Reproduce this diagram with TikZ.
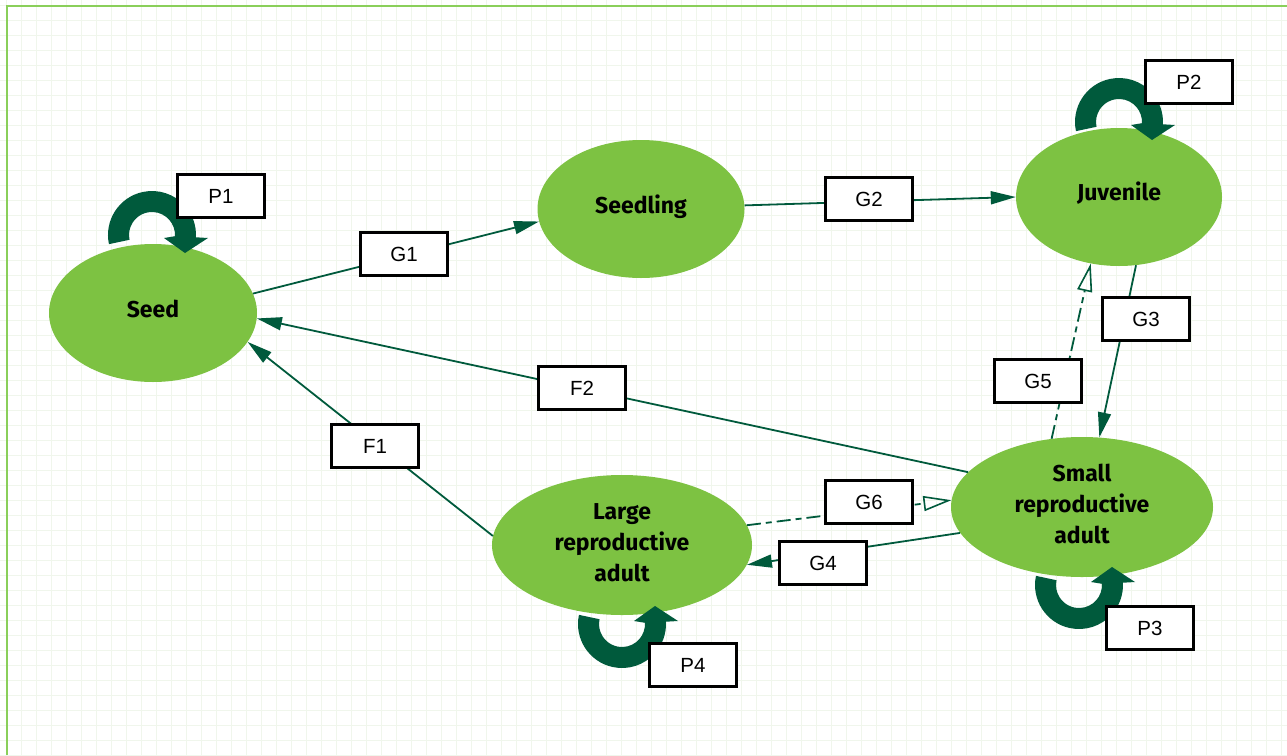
\documentclass[tikz,border=0pt]{standalone}
\usepackage{fontspec}
\setmainfont{Liberation Sans}
\newfontfamily\fira{Fira Sans}
\usetikzlibrary{arrows.meta,shapes.geometric}
\definecolor{dkg}{HTML}{005A3C}
\definecolor{lg}{HTML}{7DC242}
\definecolor{gridc}{HTML}{F0F6EC}
\definecolor{framec}{HTML}{8ACF5A}
\newcommand\toploop[1]{\fill[dkg, shift={#1}] (192:44pt) arc[start angle=192,end angle=-3,radius=44pt] -- (56,3) -- (33,18) -- (12,3) -- (-3:23pt) arc[start angle=-3,end angle=192,radius=23pt] -- cycle;}
\newcommand\botloop[1]{\fill[dkg, shift={#1}] (168:44pt) arc[start angle=168,end angle=363,radius=44pt] -- (56,-3) -- (33,-18) -- (12,-3) -- (3:23pt) arc[start angle=363,end angle=168,radius=23pt] -- cycle;}
\begin{document}
\begin{tikzpicture}[x=1pt,y=-1pt,
 state/.style={ellipse, fill=lg, draw=none, inner sep=0pt},
 stext/.style={font=\fira\bfseries\fontsize{23}{31}\selectfont, align=center, text=black},
 lab/.style={draw=black, fill=white, line width=2.4pt, minimum width=87pt, minimum height=43pt, inner sep=0pt, font=\fontsize{20.5}{24}\selectfont},
 conn/.style={draw=dkg, line width=1.8pt, -{Triangle[length=25pt,width=13pt]}},
 oconn/.style={draw=dkg, line width=1.8pt, dash pattern=on 14pt off 5pt on 6pt off 5pt, -{Triangle[open,length=28pt,width=15pt,line width=1.6pt]}}]
\useasboundingbox (0,0) rectangle (1287,755);
\fill[white] (0,0) rectangle (1287,755);
\foreach \i in {0,...,85} \draw[gridc, line width=1pt] ({6.7+15*\i},0) -- ++(0,755);
\foreach \j in {0,...,50} \draw[gridc, line width=1pt] (0,{5+15*\j}) -- ++(1287,0);
\draw[framec, line width=2pt] (7,755) -- (7,6) -- (1287,6);

\node[state, minimum width=208pt, minimum height=138pt] (seed) at (153,313) {};
\node[state, minimum width=207pt, minimum height=138pt] (seedling) at (641,209) {};
\node[state, minimum width=206pt, minimum height=138pt] (juvenile) at (1119,197) {};
\node[state, minimum width=262pt, minimum height=140pt] (small) at (1082,507) {};
\node[state, minimum width=260pt, minimum height=140pt] (large) at (622,545) {};

\node[stext] (tseed) at ([yshift=4pt]seed.center) {Seed};
\node[stext] (tseedling) at ([yshift=2pt]seedling.center) {Seedling};
\node[stext] (tjuv) at ([yshift=4pt]juvenile.center) {Juvenile};
\node[stext] (tsmall) at ([yshift=3pt]small.center) {Small\\reproductive\\adult};
\node[stext] (tlarge) at ([yshift=2pt]large.center) {Large\\reproductive\\adult};

\draw[conn] (seed.11) -- (seedling.187);
\draw[conn] (seedling.2) -- (juvenile.180);
\draw[conn] (juvenile.-76) -- (small.76);
\draw[oconn] (small.114) -- (juvenile.-113);
\draw[oconn] (large.9) -- (small.177);
\draw[conn] (small.192) -- (large.-9);
\draw[conn] (small.163) -- (seed.-3);
\draw[conn] (large.176) -- (seed.-17);

\toploop{(152,235)}
\toploop{(1119,122)}
\botloop{(1079,585)}
\botloop{(622,624)}

\node[lab] (p1) at (221,196) {P1};
\node[lab] (g1) at (404,254) {G1};
\node[lab] (g2) at (869,199) {G2};
\node[lab] (p2) at (1189,82) {P2};
\node[lab] (g3) at (1146,319) {G3};
\node[lab] (g5) at (1038,381) {G5};
\node[lab] (f2) at (582,388) {F2};
\node[lab] (f1) at (375,446) {F1};
\node[lab] (g6) at (869,502) {G6};
\node[lab] (g4) at (823,563) {G4};
\node[lab] (p3) at (1150,628) {P3};
\node[lab] (p4) at (693,665) {P4};
\end{tikzpicture}
\end{document}
